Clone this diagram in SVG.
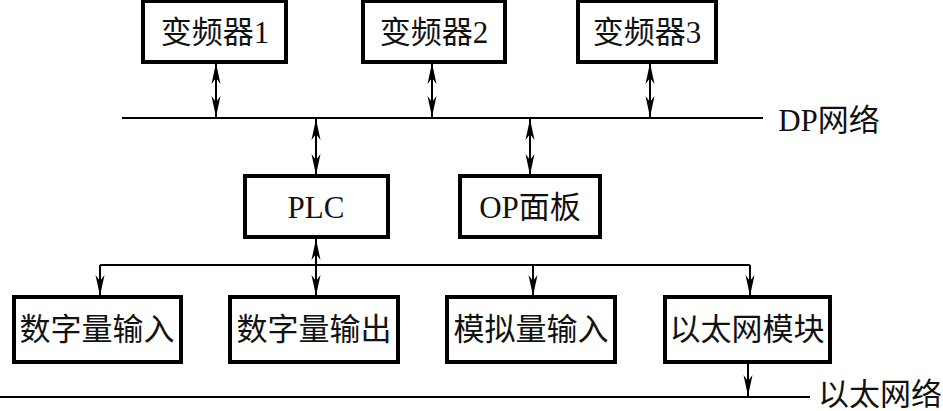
<svg xmlns="http://www.w3.org/2000/svg" width="943" height="411" viewBox="0 0 943 411">
<defs>
<marker id="ah" markerUnits="userSpaceOnUse" markerWidth="22" markerHeight="10" refX="21" refY="5" orient="auto-start-reverse" viewBox="0 0 22 10">
<path d="M0,0.5 L21,5 L0,9.5 L6,5 z" fill="#000"/>
</marker>
</defs>
<style>
.box{fill:#fff;stroke:#000;stroke-width:4}
.t{font-family:"Liberation Serif","Noto Sans CJK SC",serif;font-size:31px;fill:#111;text-anchor:middle;dominant-baseline:central}
.l{fill:none;stroke:#000;stroke-width:2}
.a1{marker-end:url(#ah)}
.a2{marker-start:url(#ah);marker-end:url(#ah)}
</style>
<rect width="943" height="411" fill="#fff"/>
<g id="connectors">
<line class="l" x1="122" y1="118" x2="763" y2="118"/>
<line class="l a2" x1="216" y1="63" x2="216" y2="117"/>
<line class="l a2" x1="432" y1="63" x2="432" y2="117"/>
<line class="l a2" x1="650" y1="63" x2="650" y2="117"/>
<line class="l a2" x1="316" y1="119" x2="316" y2="175"/>
<line class="l a2" x1="530" y1="119" x2="530" y2="175"/>
<polyline class="l" points="100,265 750,265"/>
<line class="l a1" x1="100" y1="265" x2="100" y2="296"/>
<line class="l a2" x1="316" y1="239" x2="316" y2="296"/>
<line class="l a1" x1="533" y1="265" x2="533" y2="296"/>
<line class="l a1" x1="750" y1="265" x2="750" y2="296"/>
<line class="l a1" x1="748" y1="363" x2="748" y2="396"/>
<line class="l" x1="0" y1="397" x2="810" y2="397"/>
</g>
<g id="vfd1"><rect class="box" x="143" y="1" width="143" height="61"/><text class="t" x="215" y="32">变频器1</text></g>
<g id="vfd2"><rect class="box" x="363" y="1" width="142" height="61"/><text class="t" x="434" y="32">变频器2</text></g>
<g id="vfd3"><rect class="box" x="578" y="1" width="138" height="61"/><text class="t" x="647" y="32">变频器3</text></g>
<g id="dp"><text class="t" x="829" y="120">DP网络</text></g>
<g id="plc"><rect class="box" x="245" y="176" width="143" height="61"/><text class="t" x="316" y="207">PLC</text></g>
<g id="op"><rect class="box" x="460" y="176" width="140" height="61"/><text class="t" x="530" y="207">OP面板</text></g>
<g id="di"><rect class="box" x="14" y="297" width="167" height="65"/><text class="t" x="97" y="329">数字量输入</text></g>
<g id="do"><rect class="box" x="230" y="297" width="168" height="65"/><text class="t" x="314" y="329">数字量输出</text></g>
<g id="ai"><rect class="box" x="447" y="297" width="168" height="65"/><text class="t" x="531" y="329">模拟量输入</text></g>
<g id="eth"><rect class="box" x="665" y="297" width="165" height="65"/><text class="t" x="747" y="329">以太网模块</text></g>
<g id="ethnet"><text class="t" x="880" y="394">以太网络</text></g>
</svg>
